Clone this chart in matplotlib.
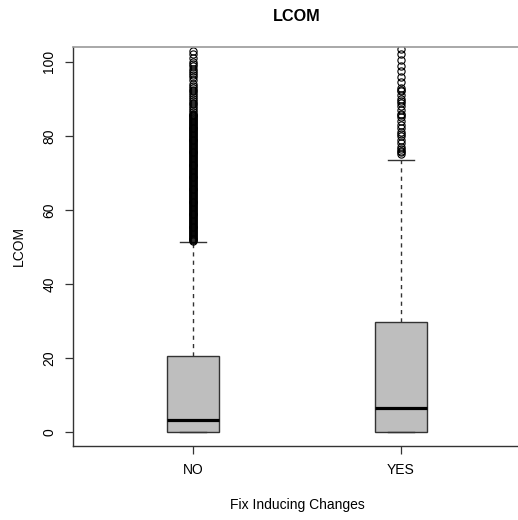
import matplotlib
matplotlib.use("Agg")
import matplotlib.pyplot as plt

plt.rcParams['font.family'] = ['Liberation Sans', 'DejaVu Sans']

groups = ["NO", "YES"]
q1 = [0.0, 0.0]
medians = [3.2, 6.6]
q3 = [20.6, 29.8]
whisker_low = [0.0, 0.0]
whisker_high = [51.2, 73.6]

outliers_no = [51.5, 51.75, 52, 52.25, 52.5, 52.75, 53, 53.25, 53.5, 53.75,
               54, 54.25, 54.5, 54.75, 55, 55.25, 55.5, 55.75, 56, 56.25, 56.5,
               56.75, 57, 57.25, 57.5, 57.75, 58, 58.25, 58.5, 58.75, 59, 59.25,
               59.5, 59.75, 60, 60.25, 60.5, 60.75, 61, 61.25, 61.5, 61.75, 62,
               62.25, 62.5, 62.75, 63, 63.25, 63.5, 63.75, 64, 64.25, 64.5,
               64.75, 65, 65.25, 65.5, 65.75, 66, 66.25, 66.5, 66.75, 67, 67.25,
               67.5, 67.75, 68, 68.25, 68.5, 68.75, 69, 69.25, 69.5, 69.75, 70,
               70.25, 70.5, 70.75, 71, 71.25, 71.5, 71.75, 72, 72.25, 72.5,
               72.75, 73, 73.25, 73.5, 73.75, 74, 74.25, 74.5, 74.75, 75, 75.25,
               75.5, 75.75, 76, 76.25, 76.5, 76.75, 77, 77.25, 77.5, 77.75, 78,
               78.25, 78.5, 78.75, 79, 79.25, 79.5, 79.75, 80, 80.25, 80.5,
               80.75, 81, 81.25, 81.5, 81.75, 82, 82.25, 82.5, 82.75, 83, 83.25,
               83.5, 83.75, 84, 84.25, 84.5, 84.75, 85, 85.25, 85.5, 85.75, 86,
               86.5, 87, 87.5, 88, 88.5, 89, 89.5, 90, 90.5, 91, 91.5, 92, 92.5,
               93, 93.5, 94, 95, 96, 96.5, 97, 97.5, 98, 99, 99.5, 100, 101, 102,
               103]
outliers_yes = [75, 75.5, 76, 76.5, 77, 78, 79, 80, 80.5, 81, 82, 83, 84, 85,
                85.5, 86, 87, 88, 89, 89.5, 90, 91, 92, 92.5, 93, 94.5, 96,
                97.5, 99, 100.5, 102, 103.5]
fliers = [outliers_no, outliers_yes]

yticks = [0, 20, 40, 60, 80, 100]

fig = plt.figure(figsize=(5.18, 5.20), dpi=100)
ax = fig.add_axes([73/518, 74/520, 448/518, 399/520])

stats = []
for i, g in enumerate(groups):
    stats.append(dict(label=g, q1=q1[i], med=medians[i], q3=q3[i],
                      whislo=whisker_low[i], whishi=whisker_high[i],
                      fliers=fliers[i]))

edge = "#333333"
ax.bxp(stats, positions=[1, 2], widths=0.25, capwidths=0.125,
       patch_artist=True, showfliers=True,
       boxprops=dict(facecolor="#bebebe", edgecolor=edge, linewidth=1.0),
       medianprops=dict(color="black", linewidth=2.3, solid_capstyle="butt"),
       whiskerprops=dict(color=edge, linewidth=1.0, linestyle=(0, (3, 3))),
       capprops=dict(color=edge, linewidth=1.0),
       flierprops=dict(marker="o", markersize=5.2, markerfacecolor="none",
                       markeredgecolor="black", markeredgewidth=0.8))

ax.set_xlim(0.42, 2.58)
ax.set_ylim(-3.8, 104)

ax.set_yticks(yticks)
ax.set_yticklabels([str(v) for v in yticks], rotation=90, va="center",
                   fontsize=10)
ax.set_xticks([1, 2])
ax.set_xticklabels(groups, fontsize=10)
ax.tick_params(axis="both", length=6, width=0.9, color=edge, pad=6,
               labelcolor="black")

for side in ["left", "bottom"]:
    ax.spines[side].set_color(edge)
    ax.spines[side].set_linewidth(1.0)
ax.spines["top"].set_color("#999999")
ax.spines["top"].set_linewidth(1.2)
ax.spines["right"].set_visible(False)

ax.set_title("LCOM", fontsize=11.7, fontweight="bold", pad=19)
ax.set_ylabel("LCOM", fontsize=10, labelpad=12)
ax.set_xlabel("Fix Inducing Changes", fontsize=10, labelpad=15)

fig.savefig("out.png", dpi=100, facecolor="white")
